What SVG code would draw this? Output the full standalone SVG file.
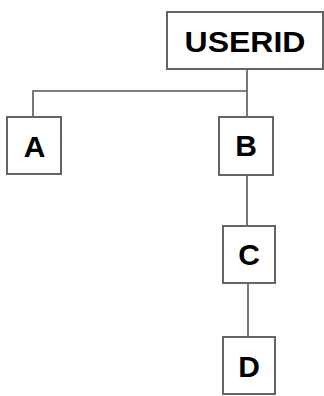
<svg xmlns="http://www.w3.org/2000/svg" width="324" height="396" viewBox="0 0 324 396">
<style>
.box{fill:#fff;stroke:#666;stroke-width:2}
.lbl{font-family:"Liberation Sans",Arial,sans-serif;font-weight:bold;font-size:30px;fill:#000;text-anchor:middle}
.ln{fill:none;stroke:#555;stroke-width:1.6}
</style>
<rect width="324" height="396" fill="#fff"/>
<g id="connectors">
<path class="ln" d="M247 69 V118"/>
<path class="ln" d="M33 117 V91 H247"/>
<path class="ln" d="M247 175 V226"/>
<path class="ln" d="M248 283 V337"/>
</g>
<g id="userid"><rect class="box" x="167" y="12" width="156" height="57"/><text class="lbl" x="245" y="52" textLength="121" lengthAdjust="spacingAndGlyphs">USERID</text></g>
<g id="a"><rect class="box" x="7" y="117" width="54" height="57"/><text class="lbl" x="34.5" y="157">A</text></g>
<g id="b"><rect class="box" x="219" y="117" width="54" height="58"/><text class="lbl" x="246" y="156">B</text></g>
<g id="c"><rect class="box" x="223" y="226" width="52" height="57"/><text class="lbl" x="249" y="265">C</text></g>
<g id="d"><rect class="box" x="223" y="337" width="52" height="57"/><text class="lbl" x="249" y="377">D</text></g>
</svg>
